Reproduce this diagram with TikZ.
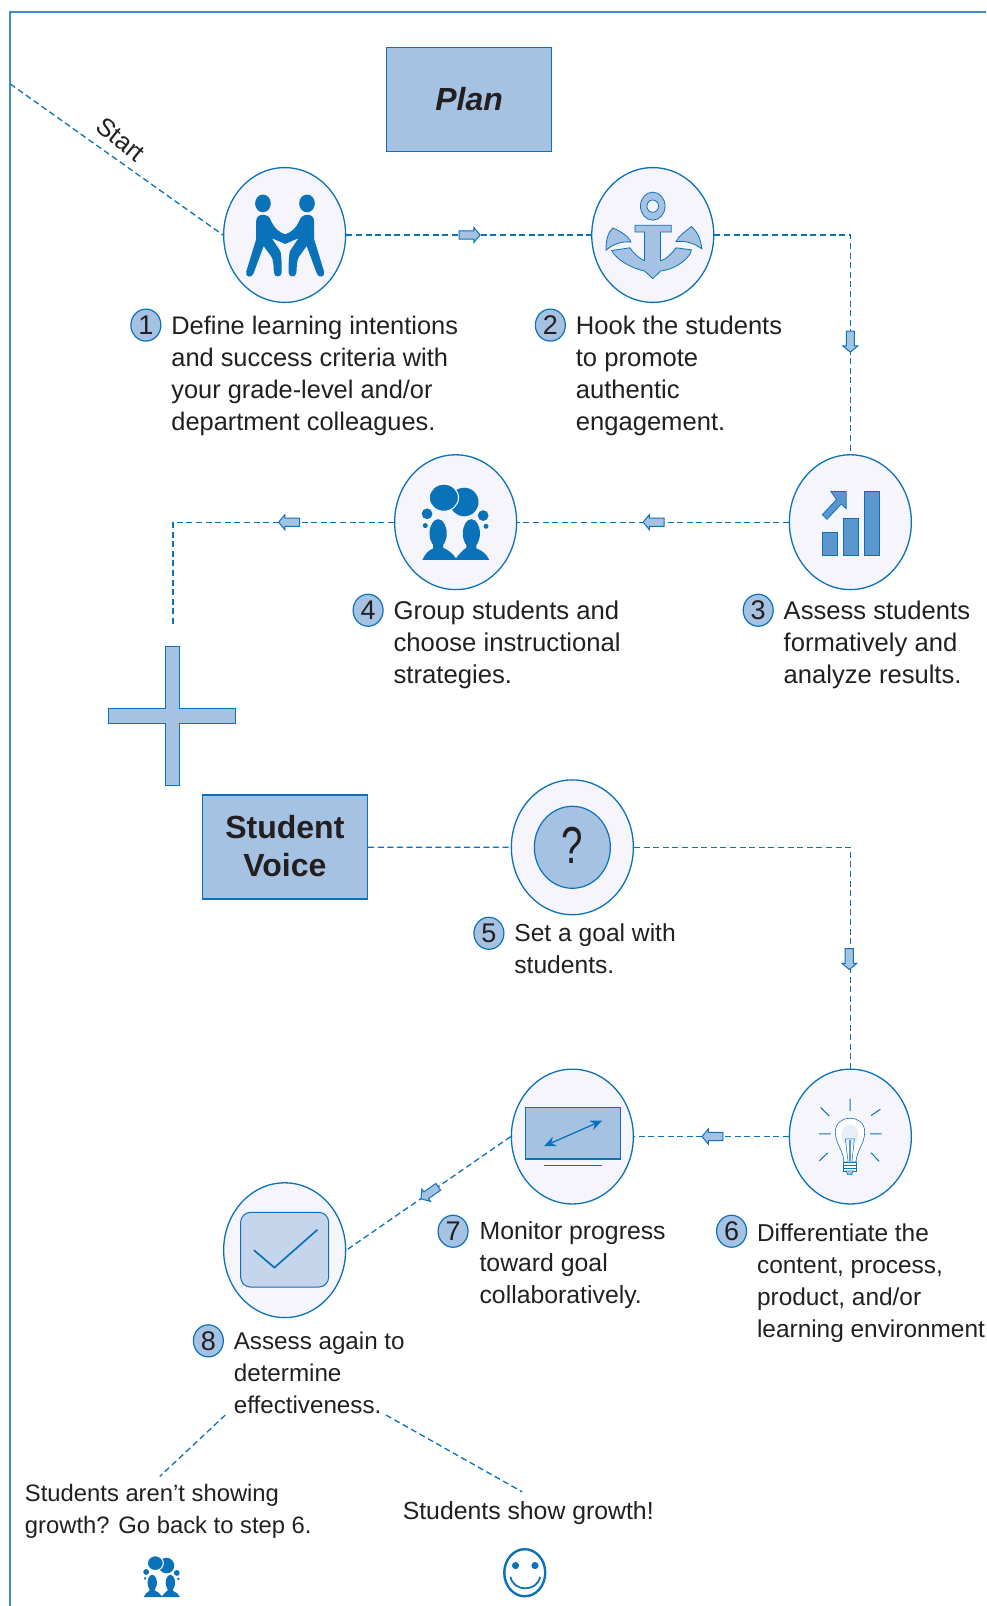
\documentclass[tikz,border=0pt]{standalone}
\usepackage{fontspec}
\setmainfont{Liberation Sans}
\usetikzlibrary{shapes.geometric,shapes.arrows,arrows.meta}
\definecolor{bluel}{HTML}{0A72B9}
\definecolor{framec}{HTML}{3F8ECB}
\definecolor{lightb}{HTML}{A6C2E3}
\definecolor{midb}{HTML}{5B97CF}
\definecolor{circf}{HTML}{F5F5FB}
\definecolor{checkf}{HTML}{C5D5EB}
\definecolor{txt}{HTML}{231F20}
\tikzset{
 stepc/.style={ellipse,draw=bluel,fill=circf,line width=0.65pt,minimum width=61pt,minimum height=67.4pt,inner sep=0pt},
 box/.style={rectangle,draw=bluel,fill=lightb,line width=0.6pt,minimum width=82.7pt,minimum height=52pt,inner sep=0pt,text=txt},
 conn/.style={draw=bluel,line width=0.65pt,dash pattern=on 3pt off 1.8pt},
 flow/.style={single arrow,draw=bluel,fill=lightb,line width=0.5pt,minimum height=10.5pt,inner xsep=0pt,inner ysep=1.8pt,single arrow head extend=1.7pt,single arrow tip angle=100,single arrow head indent=0pt},
 badge/.style={ellipse,draw=bluel,fill=lightb,line width=0.6pt,minimum width=15pt,minimum height=16pt,inner sep=0pt,text=txt,font=\fontsize{13.5}{14}\selectfont},
 body/.style={anchor=north west,inner sep=0pt,align=left,text=txt,font=\fontsize{#1}{16}\selectfont},
 iconl/.style={draw=bluel,fill=lightb,line width=0.4pt}
}
\newcommand{\groupicon}[3]{%
 \begin{scope}[shift={(#1,#2)},x=#3,y=-#3,shift={(-211,-250)}]
  \fill[bluel] (235,192) ellipse [x radius=40,y radius=40];
  \filldraw[fill=bluel,draw=white,line width=0.5pt] (178,180) ellipse [x radius=41,y radius=38];
  \fill[bluel] (131,225) circle [radius=15] (126,258) circle [radius=7] (288,230) circle [radius=15] (296,260) circle [radius=7];
  \fill[bluel] (162,280) ellipse [x radius=24,y radius=40] (255,280) ellipse [x radius=24,y radius=40];
  \fill[bluel] (118,354) .. controls (125,337) and (135,328) .. (148,322) -- (148,300) -- (176,300) -- (176,320) .. controls (190,326) and (205,338) .. (212,350) .. controls (220,338) and (232,326) .. (241,320) -- (241,300) -- (269,300) -- (269,322) .. controls (285,328) and (298,338) .. (305,354) -- cycle;
 \end{scope}}
\begin{document}
\begin{tikzpicture}[x=0.51194pt,y=-0.51194pt]
\useasboundingbox (0,0) rectangle (963,1568.5);
\draw[framec,line width=0.95pt] (963,12) -- (10,12) -- (10,1568.5);

% boxes
\node[box,font=\bfseries\itshape\fontsize{16}{19}\selectfont] (plan) at (458.2,97) {Plan};
\node[box,font=\bfseries\fontsize{16}{19}\selectfont,align=center,text depth=0pt] (voice) at (278.2,827.3) {\raisebox{1.5pt}{Student}\\\raisebox{1.5pt}{Voice}};

% circles
\node[stepc] (c1) at (278,229.5) {};
\node[stepc] (c2) at (637.5,229.5) {};
\node[stepc] (c3) at (830.5,510) {};
\node[stepc] (c4) at (445,510) {};
\node[stepc] (c5) at (559,827.5) {};
\node[stepc] (c6) at (830.5,1110) {};
\node[stepc] (c7) at (559,1110) {};
\node[stepc] (c8) at (278,1221) {};

% free ends
\coordinate (start) at (10,82);
\coordinate (crossend) at (169,610);
\coordinate (b1a) at (220,1382);
\coordinate (b1b) at (156,1442);
\coordinate (b2a) at (377,1382);
\coordinate (b2b) at (510,1457);

% connectors
\draw[conn] (start) -- (c1.west);
\draw[conn] (c1) -- (c2);
\draw[conn] (c2.east) -| (c3.north);
\draw[conn] (c3) -- (c4);
\draw[conn] (c4.west) -| (crossend);
\draw[conn] (voice) -- (c5);
\draw[conn] (c5.east) -| (c6.north);
\draw[conn] (c6) -- (c7);
\draw[conn] (c7.west) -- (c8.east);
\draw[conn] (b1a) -- (b1b);
\draw[conn] (b2a) -- (b2b);

% flow arrows
\node[flow] (a1) at (457,229.5) {};
\node[flow,rotate=270] (a2) at (830.5,332) {};
\node[flow,rotate=180] (a3) at (640,510) {};
\node[flow,rotate=180] (a4) at (284,510) {};
\node[flow,rotate=270] (a5) at (829.5,935) {};
\node[flow,rotate=180] (a6) at (697.5,1110) {};
\node[flow,rotate=215] (a7) at (421,1164) {};

% cross
\draw[fill=lightb,draw=bluel,line width=0.5pt] (161.5,631) -- (175,631) -- (175,692) -- (230,692) -- (230,707) -- (175,707) -- (175,767) -- (161.5,767) -- (161.5,707) -- (105.5,707) -- (105.5,692) -- (161.5,692) -- cycle;

% icon 1: two people
\begin{scope}[shift={(278.5,230)},x=0.1707pt,y=-0.1707pt,shift={(-246,-254)}]
 \fill[bluel] (181,160) ellipse [x radius=23,y radius=26] (310,160) ellipse [x radius=23,y radius=26];
 \foreach \m in {1,-1}{
 \begin{scope}[shift={(246,0)},xscale=\m,shift={(-246,0)}]
 \fill[bluel] (161,212) .. controls (161,188) and (198,186) .. (205,212) .. controls (213,232) and (230,246) .. (247,251) -- (247,279) -- (207,262) -- (232,300) .. controls (236,315) and (236,350) .. (236,362) .. controls (236,378) and (213,378) .. (213,362) .. controls (212,345) and (212,325) .. (205,315) -- (183,285) -- (153,366) .. controls (147,380) and (128,376) .. (132,360) -- (161,265) -- cycle;
 \end{scope}}
\end{scope}

% icon 2: anchor
\begin{scope}[shift={(637.5,230)},x=0.1707pt,y=-0.1707pt,shift={(-1312,-254)}]
 \draw[iconl] (1312,168) ellipse [x radius=36,y radius=41];
 \draw[draw=bluel,fill=circf,line width=0.4pt] (1312,168) ellipse [x radius=17,y radius=18];
 \draw[iconl] (1192,298) -- (1245,290) .. controls (1255,305) and (1270,320) .. (1288,328) -- (1288,244) -- (1260,244) -- (1260,224) -- (1366,224) -- (1366,244) -- (1335,244) -- (1335,328) .. controls (1350,325) and (1370,305) .. (1380,290) -- (1425,296) .. controls (1425,315) and (1385,352) .. (1335,358) -- (1312,380) -- (1288,358) .. controls (1250,350) and (1205,325) .. (1192,298) -- cycle;
 \draw[iconl] (1175,297) .. controls (1175,270) and (1180,245) .. (1195,232) .. controls (1215,240) and (1240,255) .. (1248,273) .. controls (1220,270) and (1195,280) .. (1175,297) -- cycle;
 \draw[iconl] (1456,293) .. controls (1452,265) and (1445,245) .. (1425,228) .. controls (1410,240) and (1388,255) .. (1380,272) .. controls (1410,268) and (1435,278) .. (1456,293) -- cycle;
\end{scope}

% icon 3: chart
\begin{scope}[shift={(831,511)},x=0.1786pt,y=-0.1786pt,shift={(-1317,-246)}]
 \draw[bluel,fill=midb,line width=0.5pt] (1237,273) rectangle (1280,337);
 \draw[bluel,fill=midb,line width=0.5pt] (1295,232) rectangle (1338,337);
 \draw[bluel,fill=midb,line width=0.5pt] (1354,157) rectangle (1398,337);
 \draw[bluel,fill=midb,line width=0.4pt] (1237,222) -- (1277,180) -- (1261,157) -- (1304,157) -- (1304,205) -- (1290,192) -- (1250,235) -- cycle;
\end{scope}

% icon 4: group
\groupicon{445}{510.5}{0.1786pt}

% icon 5: question
\node[ellipse,draw=bluel,fill=lightb,line width=0.6pt,minimum width=38pt,minimum height=41pt,inner sep=0pt] (q) at (559,827.5) {};
\node[inner sep=0pt,text=txt,font=\fontsize{26}{30}\selectfont,xscale=0.74,transform shape] (qm) at (559,826) {?};

% icon 6: bulb
\begin{scope}[shift={(830.5,1110)},x=0.1668pt,y=-0.1668pt,shift={(-1051,-259)}]
 \draw[bluel,line width=0.5pt] (1050,145) -- (1050,182) (962,172) -- (987,197) (1141,177) -- (1113,196) (957,251) -- (992,251) (1110,251) -- (1145,251) (958,332) -- (983,308) (1113,308) -- (1137,333);
 \draw[draw=bluel,fill=white,line width=0.3pt] (1032,335) .. controls (1030,300) and (1006,280) .. (1006,245) .. controls (1006,190) and (1094,190) .. (1094,245) .. controls (1094,280) and (1070,300) .. (1068,335) -- cycle;
 \fill[lightb,opacity=0.25] (1050,255) ellipse [x radius=26,y radius=32];
 \draw[bluel,line width=0.25pt] (1036,266) -- (1063,266) -- (1056,333) (1036,266) -- (1044,333);
 \draw[midb,line width=0.8pt] (1050,270) -- (1050,333);
 \draw[draw=bluel,fill=white,line width=0.3pt] (1030,335) rectangle (1068,362);
 \draw[bluel,line width=0.3pt] (1030,344) -- (1068,344) (1030,353) -- (1068,353);
 \draw[draw=bluel,fill=lightb,line width=0.3pt] (1038,362) -- (1060,362) -- (1055,373) -- (1043,373) -- cycle;
\end{scope}

% icon 7: monitor
\begin{scope}[shift={(559.5,1110)},x=0.1668pt,y=-0.1668pt,shift={(-217,-259)}]
 \draw[bluel,fill=lightb,line width=0.6pt] (75,172) rectangle (359,326);
 \draw[bluel,line width=0.45pt] (131,347) -- (303,347);
 \draw[bluel,line width=0.65pt,{Stealth[length=6pt,width=5pt]}-{Stealth[length=6pt,width=5pt]}] (130,288) -- (305,211);
\end{scope}

% icon 8: check
\draw[draw=bluel,fill=checkf,line width=0.5pt,rounded corners=5pt] (235,1184) rectangle (321,1257);
\draw[bluel,line width=0.85pt] (248,1221) -- (268,1238) -- (310,1201);

% badges
\node[badge] (n1) at (142.5,317.5) {1};
\node[badge] (n2) at (537.5,317.5) {2};
\node[badge] (n3) at (740.5,596) {3};
\node[badge] (n4) at (359.5,596) {4};
\node[badge] (n5) at (477.5,911.5) {5};
\node[badge] (n6) at (714.5,1202.5) {6};
\node[badge] (n7) at (442.5,1202.5) {7};
\node[badge] (n8) at (203.5,1309.5) {8};

% texts
\node[body=12.7] (t1) at (167,308.5) {Define learning intentions\\and success criteria with\\your grade-level and/or\\department colleagues.};
\node[body=12.8] (t2) at (562,308.5) {Hook the students\\to promote\\authentic\\engagement.};
\node[body=12.8] (t3) at (765,586.5) {Assess students\\formatively and\\analyze results.};
\node[body=12.85] (t4) at (384,586.5) {Group students and\\choose instructional\\strategies.};
\node[body=12.3] (t5) at (502,902) {Set a goal with\\students.};
\node[body=12.2] (t6) at (739,1195) {Differentiate the\\content, process,\\product, and/or\\learning environment.};
\node[body=12.4] (t7) at (468,1192.5) {Monitor progress\\toward goal\\collaboratively.};
\node[body=12.1] (t8) at (228,1300) {Assess again to\\determine\\effectiveness.};
\node[body=11.9] (t9) at (24,1449.5) {Students aren’t showing\\growth? Go back to step 6.};
\node[body=12.4] (t10) at (393,1466) {Students show growth!};
\node[text=txt,rotate=-39,inner sep=0pt,font=\fontsize{12.7}{16}\selectfont] (st) at (118,136) {Start};

% bottom icons
\groupicon{158}{1540}{0.0975pt}
\draw[bluel,line width=1.2pt] (512.5,1536) ellipse [x radius=20,y radius=23];
\fill[bluel] (503.5,1529) circle [radius=3.5] (522.5,1529) circle [radius=3.5];
\draw[bluel,line width=0.9pt] (498.5,1540) .. controls (501.5,1555) and (524.5,1555) .. (527.5,1540);
\end{tikzpicture}
\end{document}
